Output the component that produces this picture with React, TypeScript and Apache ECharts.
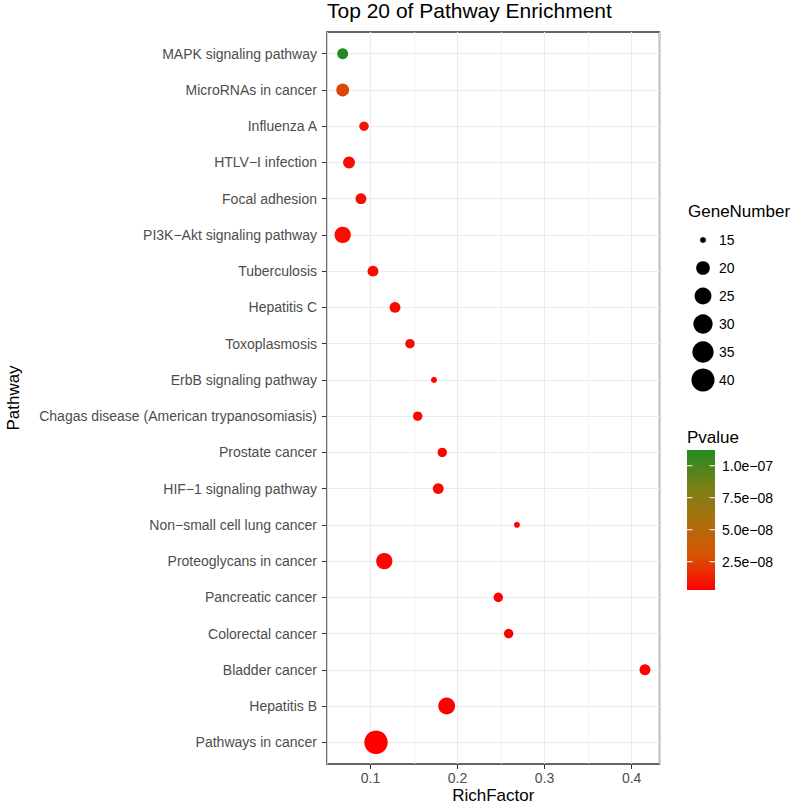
import React, { useEffect, useRef } from 'react';
import * as echarts from 'echarts';

// ---------- data ----------
const pathways = [
  'MAPK signaling pathway',
  'MicroRNAs in cancer',
  'Influenza A',
  'HTLV\u2212I infection',
  'Focal adhesion',
  'PI3K\u2212Akt signaling pathway',
  'Tuberculosis',
  'Hepatitis C',
  'Toxoplasmosis',
  'ErbB signaling pathway',
  'Chagas disease (American trypanosomiasis)',
  'Prostate cancer',
  'HIF\u22121 signaling pathway',
  'Non\u2212small cell lung cancer',
  'Proteoglycans in cancer',
  'Pancreatic cancer',
  'Colorectal cancer',
  'Bladder cancer',
  'Hepatitis B',
  'Pathways in cancer',
];
const richFactor = [
  0.068, 0.068, 0.0925, 0.0753, 0.089, 0.068, 0.1028, 0.1281, 0.1453, 0.1729,
  0.1542, 0.1824, 0.1778, 0.2682, 0.1158, 0.2468, 0.2587, 0.4153, 0.1875, 0.1063,
];
const geneNumber = [17, 19, 16, 18, 17, 24, 17, 17, 16, 15, 16, 16, 17, 15, 24, 16, 16, 17, 25, 41];
const pValue = [
  1.12e-7, 2.6e-8, 8.5e-9, 8.0e-9, 7.4e-9, 7.0e-9, 6.5e-9, 6.1e-9, 5.7e-9, 5.3e-9,
  5.0e-9, 4.7e-9, 4.4e-9, 4.1e-9, 3.8e-9, 3.6e-9, 3.4e-9, 3.2e-9, 3.05e-9, 2.9e-9,
];
const xTicks = [0.1, 0.2, 0.3, 0.4];
const sizeBreaks = [15, 20, 25, 30, 35, 40];
const pBreaks = [2.5e-8, 5.0e-8, 7.5e-8, 1.0e-7];
const pBreakLabels = ['2.5e\u221208', '5.0e\u221208', '7.5e\u221208', '1.0e\u221207'];
const P_MIN = 2.9e-9;
const P_MAX = 1.123e-7;
const X_MIN = 0.05;
const X_MAX = 0.432;
const G_MIN = 15;
const G_MAX = 41;
const gradientColors = ['#FF0000', '#D55504', '#A9700D', '#768018', '#228B22'];

// ---------- layout ----------
const FONT = "'Liberation Sans', Arial, Helvetica, sans-serif";
const PANEL = { left: 327, right: 659.5, top: 32, bottom: 764 };
const SIZE_LEG = { x: 688, titleY: 212, cx: 703, firstY: 240, step: 28, labelX: 719 };
const BAR = { x: 687, y: 450, w: 28, h: 140, titleY: 438, labelX: 722 };

function sizeOf(g: number): number {
  return 6 + 17.5 * Math.sqrt(Math.max(0, g - G_MIN) / (G_MAX - G_MIN));
}

export default function App() {
  const ref = useRef<HTMLDivElement>(null);

  useEffect(() => {
    if (!ref.current) return;
    const chart = echarts.init(ref.current, null, { renderer: 'svg' });

    const panelW = PANEL.right - PANEL.left;
    const panelH = PANEL.bottom - PANEL.top;
    const stepY = panelH / (pathways.length - 1 + 1.2);
    const innerTop = PANEL.top + 0.6 * stepY;
    const innerH = panelH - 1.2 * stepY;

    const data = pathways.map((p, i) => [richFactor[i], p, geneNumber[i], pValue[i]]);

    const graphics: any[] = [];
    graphics.push({
      type: 'text',
      left: SIZE_LEG.x,
      top: SIZE_LEG.titleY - 9,
      style: { text: 'GeneNumber', fontSize: 17, fontFamily: FONT, fill: '#000' },
    });
    sizeBreaks.forEach((b, i) => {
      const cy = SIZE_LEG.firstY + i * SIZE_LEG.step;
      graphics.push({
        type: 'circle',
        shape: { cx: SIZE_LEG.cx, cy, r: sizeOf(b) / 2 },
        style: { fill: '#000' },
      });
      graphics.push({
        type: 'text',
        x: SIZE_LEG.labelX,
        y: cy,
        style: {
          text: String(b),
          fontSize: 14,
          fontFamily: FONT,
          fill: '#000',
          textVerticalAlign: 'middle',
          verticalAlign: 'middle',
        },
      });
    });
    graphics.push({
      type: 'text',
      left: BAR.x,
      top: BAR.titleY - 9,
      style: { text: 'Pvalue', fontSize: 17, fontFamily: FONT, fill: '#000' },
    });
    graphics.push({
      type: 'rect',
      shape: { x: BAR.x, y: BAR.y, width: BAR.w, height: BAR.h },
      style: {
        fill: new echarts.graphic.LinearGradient(
          0,
          1,
          0,
          0,
          gradientColors.map((c, i) => ({ offset: i / (gradientColors.length - 1), color: c }))
        ),
      },
    });
    pBreaks.forEach((v, i) => {
      const y = BAR.y + BAR.h - ((v - P_MIN) / (P_MAX - P_MIN)) * BAR.h;
      const tl = BAR.w / 5;
      graphics.push({
        type: 'line',
        shape: { x1: BAR.x, y1: y, x2: BAR.x + tl, y2: y },
        style: { stroke: '#FFFFFF', lineWidth: 1 },
      });
      graphics.push({
        type: 'line',
        shape: { x1: BAR.x + BAR.w - tl, y1: y, x2: BAR.x + BAR.w, y2: y },
        style: { stroke: '#FFFFFF', lineWidth: 1 },
      });
      graphics.push({
        type: 'text',
        x: BAR.labelX,
        y,
        style: {
          text: pBreakLabels[i],
          fontSize: 14,
          fontFamily: FONT,
          fill: '#000',
          textVerticalAlign: 'middle',
          verticalAlign: 'middle',
        },
      });
    });

    const option: any = {
      animation: false,
      backgroundColor: '#FFFFFF',
      title: {
        text: 'Top 20 of Pathway Enrichment',
        left: PANEL.left,
        top: 0,
        padding: 0,
        textStyle: { fontSize: 21, fontWeight: 'normal', color: '#000', fontFamily: FONT },
      },
      grid: [
        {
          left: PANEL.left,
          top: PANEL.top,
          width: panelW,
          height: panelH,
          show: true,
          borderColor: '#333333',
          borderWidth: 1.4,
          backgroundColor: 'transparent',
          outerBoundsMode: 'none',
          containLabel: false,
        },
        {
          left: PANEL.left,
          top: innerTop,
          width: panelW,
          height: innerH,
          outerBoundsMode: 'none',
          containLabel: false,
        },
      ],
      xAxis: [
        {
          gridIndex: 0,
          type: 'value',
          min: X_MIN,
          max: X_MAX,
          position: 'bottom',
          axisLine: { show: false },
          axisTick: { show: true, length: 5, lineStyle: { color: '#333333', width: 1 }, customValues: xTicks },
          axisLabel: {
            color: '#4D4D4D',
            fontSize: 14,
            fontFamily: FONT,
            margin: 7,
            customValues: xTicks,
          },
          splitLine: { show: true, lineStyle: { color: '#EBEBEB', width: 1.1 } },
          name: 'RichFactor',
          nameLocation: 'middle',
          nameGap: 23,
          nameMoveOverlap: false,
          nameTextStyle: { fontSize: 17, lineHeight: 17, color: '#000', fontFamily: FONT, padding: 0 },
        },
        {
          gridIndex: 0,
          type: 'value',
          min: X_MIN,
          max: X_MAX,
          interval: 0.1,
          position: 'top',
          axisLine: { show: false },
          axisTick: { show: false },
          axisLabel: { show: false },
          splitLine: { show: true, lineStyle: { color: '#EFEFEF', width: 0.8 } },
        },
        {
          gridIndex: 1,
          type: 'value',
          min: X_MIN,
          max: X_MAX,
          show: false,
        },
      ],
      yAxis: [
        { gridIndex: 0, type: 'value', min: 0, max: 1, show: false },
        {
          gridIndex: 1,
          type: 'category',
          data: pathways,
          inverse: true,
          boundaryGap: false,
          axisLine: { show: false },
          axisTick: { show: true, length: 5, interval: 0, lineStyle: { color: '#333333', width: 1 } },
          axisLabel: { interval: 0, color: '#4D4D4D', fontSize: 14, fontFamily: FONT, margin: 10 },
          splitLine: { show: true, interval: 0, lineStyle: { color: '#EBEBEB', width: 1.1 } },
          name: 'Pathway',
          nameLocation: 'middle',
          nameGap: 305,
          nameMoveOverlap: false,
          nameTextStyle: { fontSize: 17, color: '#000', fontFamily: FONT },
        },
      ],
      visualMap: [
        {
          type: 'continuous',
          show: false,
          dimension: 3,
          min: P_MIN,
          max: P_MAX,
          seriesIndex: 0,
          inRange: { color: gradientColors },
        },
      ],
      series: [
        {
          type: 'scatter',
          xAxisIndex: 2,
          yAxisIndex: 1,
          data,
          encode: { x: 0, y: 1 },
          symbol: 'circle',
          symbolSize: (v: any) => sizeOf(v[2]),
          itemStyle: { opacity: 1 },
        },
      ],
      graphic: graphics,
    };

    chart.setOption(option);
    return () => chart.dispose();
  }, []);

  return (
    <div
      ref={ref}
      style={{ position: 'absolute', left: 0, top: 0, width: 796, height: 806 }}
    />
  );
}
